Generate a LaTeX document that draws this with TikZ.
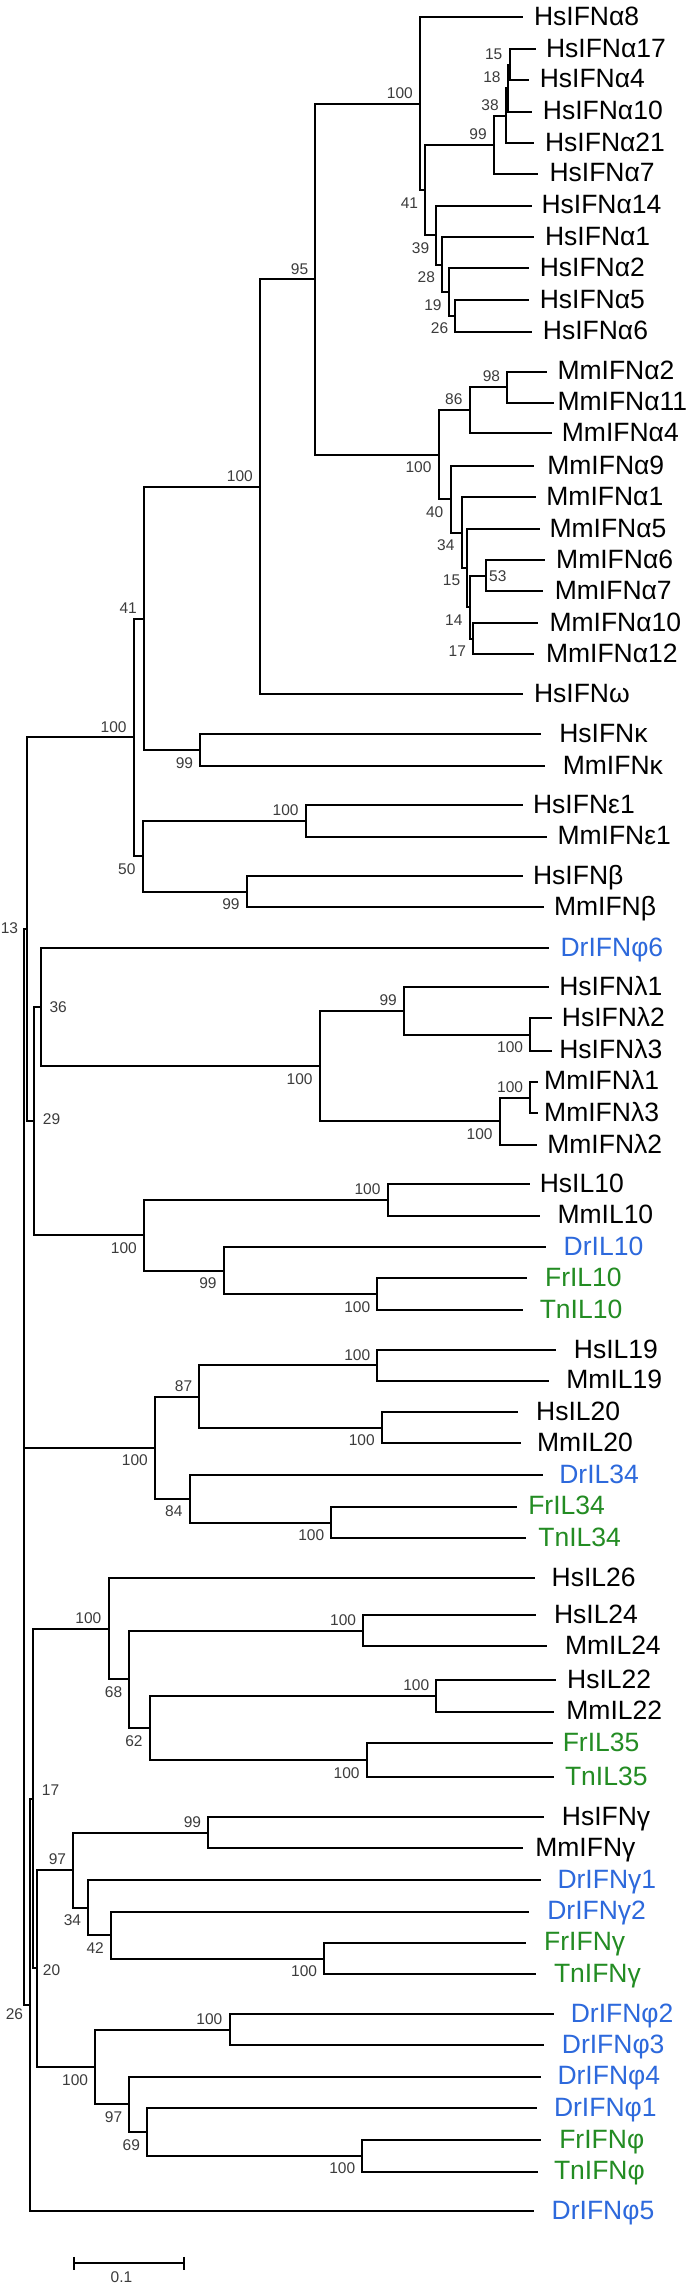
\documentclass[tikz,border=0pt]{standalone}
\usepackage{fontspec}
\setmainfont{Liberation Sans}
\newfontfamily\treefont{Liberation Sans}
\usetikzlibrary{calc}
\definecolor{drblue}{RGB}{45,105,220}
\definecolor{fishgreen}{RGB}{35,140,35}
\definecolor{bsgray}{RGB}{60,60,60}
\tikzset{
  br/.style={line width=2pt, black},
  leaf/.style={anchor=base west, inner sep=0pt, font=\treefont\fontsize{26.5}{30}\selectfont},
  bs/.style={inner sep=0pt, text=bsgray, font=\treefont\fontsize{15.5}{18}\selectfont},
  bsup/.style={bs, anchor=south east},
  bslo/.style={bs, anchor=north east}
}
% leaf: [colour]{name}{tip x}{y}{label x}{text}
\newcommand\lf[6][black]{%
  \coordinate (#2) at (#3,#4);
  \node[leaf, text=#1] (#2l) at (#5,#4+8) {#6};}
\newcommand\nd[3]{\coordinate (#1) at (#2,#3);}
\newcommand\ed[2]{\foreach \ch in {#2}{\draw[br] (#1) |- (\ch);}}
\newcommand\bsU[2]{\node[bsup] (#1b) at ($(#1)+(-7,-5)$) {#2};}
\newcommand\bsL[2]{\node[bslo] (#1b) at ($(#1)+(-7,7)$) {#2};}
\begin{document}
\begin{tikzpicture}[x=1pt,y=-1pt]
\fill[white] (0,0) rectangle (685,2285);
\useasboundingbox (0,0) rectangle (685,2285);
% ---------- leaves ----------
\lf{a8}{522.7}{17.3}{533.8}{HsIFNα8}
\lf{a17}{536}{49.3}{545.8}{HsIFNα17}
\lf{a4}{529.4}{80}{539.6}{HsIFNα4}
\lf{a10}{531.6}{111.7}{542.7}{HsIFNα10}
\lf{a21}{533.8}{143.3}{544.9}{HsIFNα21}
\lf{a7}{538.2}{174}{549.3}{HsIFNα7}
\lf{a14}{531.6}{206}{541.3}{HsIFNα14}
\lf{a1}{533.8}{237.3}{544.9}{HsIFNα1}
\lf{a2}{529.4}{268.3}{539.6}{HsIFNα2}
\lf{a5}{529.4}{300}{539.6}{HsIFNα5}
\lf{a6}{531.6}{331.7}{542.7}{HsIFNα6}
\lf{ma2}{547.1}{371.7}{557.3}{MmIFNα2}
\lf{ma11}{553.8}{402.7}{557.3}{MmIFNα11}
\lf{ma4}{551.5}{433.3}{561.7}{MmIFNα4}
\lf{ma9}{533.8}{466}{547.1}{MmIFNα9}
\lf{ma1}{536}{497.3}{546.2}{MmIFNα1}
\lf{ma5}{539.6}{529}{549.3}{MmIFNα5}
\lf{ma6}{544.9}{560}{556}{MmIFNα6}
\lf{ma7}{542.7}{591}{554.6}{MmIFNα7}
\lf{ma10}{538.2}{623.3}{549.3}{MmIFNα10}
\lf{ma12}{533.8}{654.3}{545.8}{MmIFNα12}
\lf{om}{522.7}{694}{533.8}{HsIFNω}
\lf{hk}{541.3}{734.3}{559.1}{HsIFNκ}
\lf{mk}{544.9}{766}{562.6}{MmIFNκ}
\lf{he}{522.7}{805}{532.9}{HsIFNε1}
\lf{me}{547.1}{836.7}{557.3}{MmIFNε1}
\lf{hb}{522.7}{876}{532.9}{HsIFNβ}
\lf{mb}{544}{907.3}{553.8}{MmIFNβ}
\lf[drblue]{p6}{549.3}{948.3}{560.4}{DrIFNφ6}
\lf{hl1}{549.3}{987.3}{559.1}{HsIFNλ1}
\lf{hl2}{551.5}{1018.3}{561.7}{HsIFNλ2}
\lf{hl3}{551.5}{1050.7}{559.1}{HsIFNλ3}
\lf{ml1}{538.2}{1081.7}{544}{MmIFNλ1}
\lf{ml3}{538.2}{1113.3}{544}{MmIFNλ3}
\lf{ml2}{536.9}{1145}{547.1}{MmIFNλ2}
\lf{h10}{530.3}{1184.3}{539.6}{HsIL10}
\lf{m10}{539.6}{1215.7}{557.3}{MmIL10}
\lf[drblue]{d10}{545.8}{1247.3}{563.5}{DrIL10}
\lf[fishgreen]{f10}{527.2}{1278.3}{544.9}{FrIL10}
\lf[fishgreen]{t10}{522.7}{1310}{539.6}{TnIL10}
\lf{h19}{556}{1350}{573.7}{HsIL19}
\lf{m19}{549.3}{1380.7}{566.2}{MmIL19}
\lf{h20}{518.3}{1412.3}{536}{HsIL20}
\lf{m20}{520.5}{1443.3}{536.9}{MmIL20}
\lf[drblue]{d34}{542.7}{1475}{559.1}{DrIL34}
\lf[fishgreen]{f34}{517.4}{1506.7}{528.1}{FrIL34}
\lf[fishgreen]{t34}{526.3}{1538.3}{538.2}{TnIL34}
\lf{h26}{535.1}{1578.3}{551.5}{HsIL26}
\lf{h24}{536}{1615}{553.8}{HsIL24}
\lf{m24}{547.1}{1646}{564.8}{MmIL24}
\lf{h22}{556}{1680}{567}{HsIL22}
\lf{m22}{553.8}{1711.7}{566.2}{MmIL22}
\lf[fishgreen]{f35}{552.9}{1743.3}{562.6}{FrIL35}
\lf[fishgreen]{t35}{553.8}{1777.3}{564.8}{TnIL35}
\lf{hg}{544}{1817.3}{561.7}{HsIFNγ}
\lf{mg}{522.7}{1848.3}{535.1}{MmIFNγ}
\lf[drblue]{g1}{540.5}{1880}{557.3}{DrIFNγ1}
\lf[drblue]{g2}{529.4}{1911.7}{547.1}{DrIFNγ2}
\lf[fishgreen]{fg}{526.3}{1942.7}{544}{FrIFNγ}
\lf[fishgreen]{tg}{536}{1974.3}{553.8}{TnIFNγ}
\lf[drblue]{p2}{553.8}{2014}{570.6}{DrIFNφ2}
\lf[drblue]{p3}{544}{2045}{561.7}{DrIFNφ3}
\lf[drblue]{p4}{541.3}{2076.7}{557.3}{DrIFNφ4}
\lf[drblue]{p1}{536.9}{2108.3}{553.8}{DrIFNφ1}
\lf[fishgreen]{fp}{541.3}{2140}{559.1}{FrIFNφ}
\lf[fishgreen]{tp}{538.2}{2171.7}{553.8}{TnIFNφ}
\lf[drblue]{p5}{533.8}{2211}{551.5}{DrIFNφ5}
% ---------- internal nodes ----------
\nd{n15}{509.5}{64.7}
\nd{n18}{507.7}{88.2}
\nd{n38}{505.9}{115.8}
\nd{n99a}{493.9}{144.9}
\nd{n26a}{455.4}{315.9}
\nd{n19a}{448.8}{292.1}
\nd{n28a}{442.1}{264.7}
\nd{n39a}{436.4}{235.4}
\nd{n41a}{425.3}{190.2}
\nd{nHs}{420.0}{103.8}
\nd{n98}{507.2}{387.2}
\nd{n86}{469.6}{410.3}
\nd{n53}{486}{575.5}
\nd{n17m}{473.1}{638.8}
\nd{n14m}{469.6}{607.2}
\nd{n15m}{467.4}{568.1}
\nd{n34m}{461.6}{532.7}
\nd{n40m}{450.5}{499.4}
\nd{nMm}{438.6}{454.9}
\nd{n95}{315.4}{279.4}
\nd{nB}{260}{486.7}
\nd{nK}{200.2}{750.2}
\nd{n41}{144}{618.5}
\nd{nE}{305.7}{820.9}
\nd{nBe}{246.8}{891.7}
\nd{n50}{142.6}{856.3}
\nd{nA}{133.8}{737.4}
\nd{nL23}{530.3}{1034.5}
\nd{nHsL}{404}{1010.9}
\nd{nML13}{530.3}{1097.5}
\nd{nML}{499.7}{1121.3}
\nd{nL}{319.8}{1066.1}
\nd{n36}{40.7}{1007.2}
\nd{nI10m}{387.6}{1200}
\nd{nI10f}{377.4}{1294.2}
\nd{n99f}{223.7}{1270.8}
\nd{nI10}{144}{1235.4}
\nd{n29}{34}{1121.3}
\nd{n13}{26.7}{929.4}
\nd{nI19}{377.4}{1365.4}
\nd{nI20}{381.9}{1427.8}
\nd{n87}{199.4}{1396.6}
\nd{nI34}{331.4}{1522.5}
\nd{n84}{189.6}{1498.8}
\nd{nI1920}{155}{1447.7}
\nd{nI24}{363.3}{1630.5}
\nd{nI22}{436.4}{1695.9}
\nd{nI35}{366.8}{1760.3}
\nd{n62}{149.7}{1728.1}
\nd{n68}{129.4}{1679.3}
\nd{nI26}{108.5}{1628.8}
\nd{nGm}{208.2}{1832.8}
\nd{nFTg}{324.3}{1958.5}
\nd{n42g}{111}{1935.1}
\nd{n34g}{88.3}{1907.5}
\nd{n97g}{73.3}{1869.7}
\nd{nP23}{229.5}{2029.5}
\nd{nFTp}{362.4}{2155.8}
\nd{n69}{147.1}{2132}
\nd{n97p}{129.4}{2104.4}
\nd{nPhi}{95.2}{2067}
\nd{n20}{36.7}{1968.3}
\nd{n17}{33.3}{1798.6}
\nd{n26}{30}{2004.8}
\nd{root}{24}{1467}
% ---------- branches ----------
\ed{n15}{a17,a4}
\ed{n18}{n15,a10}
\ed{n38}{n18,a21}
\ed{n99a}{n38,a7}
\ed{n26a}{a5,a6}
\ed{n19a}{a2,n26a}
\ed{n28a}{a1,n19a}
\ed{n39a}{a14,n28a}
\ed{n41a}{n99a,n39a}
\ed{nHs}{a8,n41a}
\ed{n98}{ma2,ma11}
\ed{n86}{n98,ma4}
\ed{n53}{ma6,ma7}
\ed{n17m}{ma10,ma12}
\ed{n14m}{n53,n17m}
\ed{n15m}{ma5,n14m}
\ed{n34m}{ma1,n15m}
\ed{n40m}{ma9,n34m}
\ed{nMm}{n86,n40m}
\ed{n95}{nHs,nMm}
\ed{nB}{n95,om}
\ed{nK}{hk,mk}
\ed{n41}{nB,nK}
\ed{nE}{he,me}
\ed{nBe}{hb,mb}
\ed{n50}{nE,nBe}
\ed{nA}{n41,n50}
\ed{nL23}{hl2,hl3}
\ed{nHsL}{hl1,nL23}
\ed{nML13}{ml1,ml3}
\ed{nML}{nML13,ml2}
\ed{nL}{nHsL,nML}
\ed{n36}{p6,nL}
\ed{nI10m}{h10,m10}
\ed{nI10f}{f10,t10}
\ed{n99f}{d10,nI10f}
\ed{nI10}{nI10m,n99f}
\ed{n29}{n36,nI10}
\ed{n13}{nA,n29}
\ed{nI19}{h19,m19}
\ed{nI20}{h20,m20}
\ed{n87}{nI19,nI20}
\ed{nI34}{f34,t34}
\ed{n84}{d34,nI34}
\ed{nI1920}{n87,n84}
\ed{nI24}{h24,m24}
\ed{nI22}{h22,m22}
\ed{nI35}{f35,t35}
\ed{n62}{nI22,nI35}
\ed{n68}{nI24,n62}
\ed{nI26}{h26,n68}
\ed{nGm}{hg,mg}
\ed{nFTg}{fg,tg}
\ed{n42g}{g2,nFTg}
\ed{n34g}{g1,n42g}
\ed{n97g}{nGm,n34g}
\ed{nP23}{p2,p3}
\ed{nFTp}{fp,tp}
\ed{n69}{p1,nFTp}
\ed{n97p}{p4,n69}
\ed{nPhi}{nP23,n97p}
\ed{n20}{n97g,nPhi}
\ed{n17}{nI26,n20}
\ed{n26}{n17,p5}
\ed{root}{n13,nI1920,n26}
% ---------- bootstrap values ----------
\bsU{nHs}{100} \bsU{n15}{15} \bsU{n18}{18} \bsU{n38}{38} \bsU{n99a}{99}
\bsL{n41a}{41} \bsL{n39a}{39} \bsL{n28a}{28} \bsL{n19a}{19} \bsL{n26a}{26}
\bsU{n98}{98} \bsU{n86}{86} \bsL{nMm}{100} \bsL{n40m}{40} \bsL{n34m}{34}
\bsL{n15m}{15} \bsL{n14m}{14} \bsL{n17m}{17}
\node[bs, anchor=west] (n53b) at ($(n53)+(3,1)$) {53};
\bsU{n95}{95} \bsU{nB}{100} \bsU{n41}{41} \bsL{nK}{99} \bsU{nA}{100}
\bsL{n50}{50} \bsU{nE}{100} \bsL{nBe}{99}
\bsU{nHsL}{99} \bsL{nL23}{100} \bsL{nL}{100} \bsU{nML13}{100} \bsL{nML}{100}
\bsU{nI10m}{100} \bsL{nI10}{100} \bsL{n99f}{99} \bsL{nI10f}{100}
\bsL{nI1920}{100} \bsU{n87}{87} \bsU{nI19}{100} \bsL{nI20}{100} \bsL{n84}{84} \bsL{nI34}{100}
\bsU{nI26}{100} \bsU{nI24}{100} \bsL{n68}{68} \bsU{nI22}{100} \bsL{n62}{62} \bsL{nI35}{100}
\bsU{nGm}{99} \bsU{n97g}{97} \bsL{n34g}{34} \bsL{n42g}{42} \bsL{nFTg}{100}
\bsL{nPhi}{100} \bsU{nP23}{100} \bsL{n97p}{97} \bsL{n69}{69} \bsL{nFTp}{100}
\node[bs, anchor=east] (n13b) at (18.3,928.3) {13};
\node[bs, anchor=west] (n36b) at (49.3,1007.3) {36};
\node[bs, anchor=west] (n29b) at (42.7,1119) {29};
\node[bs, anchor=west] (n17b) at (41.7,1790) {17};
\node[bs, anchor=west] (n20b) at (42.7,1970) {20};
\node[bs, anchor=east] (n26b) at (23.3,2014) {26};
% ---------- scale bar ----------
\coordinate (sb1) at (74,2263.3);
\coordinate (sb2) at (183.8,2263.3);
\draw[br] (sb1) -- (sb2);
\draw[br] ($(sb1)+(0,-6.5)$) -- ($(sb1)+(0,6.5)$);
\draw[br] ($(sb2)+(0,-6.5)$) -- ($(sb2)+(0,6.5)$);
\node[bs] (sbl) at (121.5,2276.7) {0.1};
\end{tikzpicture}
\end{document}
